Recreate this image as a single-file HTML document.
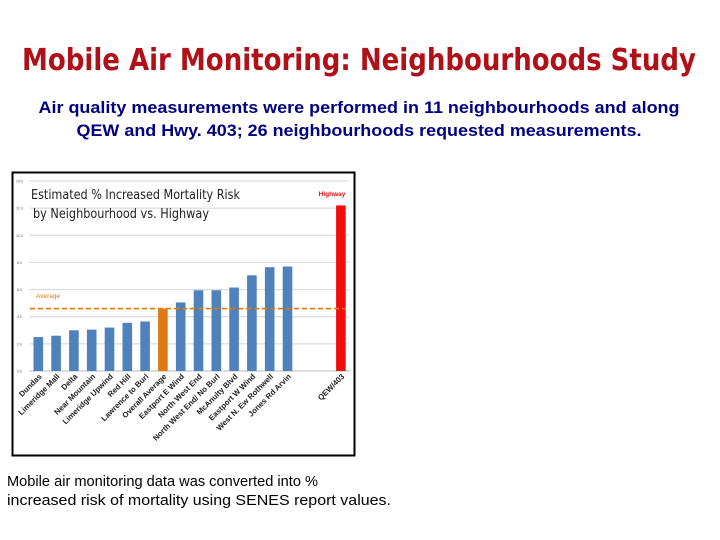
<!DOCTYPE html>
<html><head><meta charset="utf-8"><style>
html,body{margin:0;padding:0;background:#fff;}
svg{display:block;}
</style></head><body>
<svg id="slide" width="720" height="540" viewBox="0 0 720 540" xmlns="http://www.w3.org/2000/svg">
<text x="359" y="70" text-anchor="middle" textLength="674" lengthAdjust="spacingAndGlyphs" font-family="DejaVu Sans, sans-serif" font-weight="bold" font-size="30" fill="#b01018">Mobile Air Monitoring: Neighbourhoods Study</text>
<g font-family="Liberation Sans, sans-serif" font-weight="bold" font-size="16.5" fill="#000080">
<text x="359" y="113" text-anchor="middle" textLength="641" lengthAdjust="spacingAndGlyphs">Air quality measurements were performed in 11 neighbourhoods and along</text>
<text x="359" y="136" text-anchor="middle" textLength="565" lengthAdjust="spacingAndGlyphs">QEW and Hwy. 403; 26 neighbourhoods requested measurements.</text>
</g>
<g font-family="Liberation Sans, sans-serif" font-size="14.5" fill="#000">
<text x="7" y="486" textLength="311" lengthAdjust="spacingAndGlyphs">Mobile air monitoring data was converted into %</text>
<text x="7" y="505" textLength="384" lengthAdjust="spacingAndGlyphs">increased risk of mortality using SENES report values.</text>
</g>
<rect x="12.5" y="172.5" width="342" height="283" fill="#fff" stroke="#000" stroke-width="2"/>
<g id="chart"></g>
</svg>
<script>
const categories = ["Dundas","Limeridge Mall","Delta","Near Mountain","Limeridge Upwind","Red Hill","Lawrence to Burl","Overall Average","Eastport E Wind","North West End","North West End/ No Burl","McAnulty Blvd","Eastport W Wind","West N. Ew Rothwell","Jones Rd Arvin","","","QEW/403"];
const values = [2.5,2.6,3.0,3.05,3.2,3.55,3.65,4.6,5.05,5.95,5.95,6.15,7.05,7.65,7.7,null,null,12.2];
const kinds = ["n","n","n","n","n","n","n","avg","n","n","n","n","n","n","n","","","hwy"];
const yTicks = [0,2,4,6,8,10,12,14];
const tickLabels = ["0.0","2.0","4.0","6.0","8.0","10.0","12.0","14.0"];
const averageValue = 4.6;

const NS="http://www.w3.org/2000/svg";
const g=document.getElementById('chart');
const x0=29.4, slot=17.8, gridRight=349;
const yTop=181, yBot=371, yMax=14;
function y(v){return yBot-(v/yMax)*(yBot-yTop);}
function xc(i){return x0+slot*(i+0.5);}
function el(t,a){const e=document.createElementNS(NS,t);for(const k in a)e.setAttribute(k,a[k]);g.appendChild(e);return e;}

yTicks.forEach((t,i)=>{
  const l=el('line',{x1:x0,x2:gridRight,y1:y(t),y2:y(t),stroke:i===0?'#bbb':'#d4d4d4','stroke-width':1});
  
  
  const tx=el('text',{x:x0-10,y:y(t)+1.5,'font-size':3.5,'font-family':'Liberation Sans, sans-serif',fill:'#555','text-anchor':'middle'});
  tx.textContent=tickLabels[i];
  
  
});

values.forEach((v,i)=>{
  if(v===null)return;
  const col=kinds[i]==='hwy'?'#f20d0d':kinds[i]==='avg'?'#e07a10':'#4f81bd';
  const r=el('rect',{x:xc(i)-4.8,y:y(v),width:9.6,height:y(0)-y(v),fill:col});
  
  
});
categories.forEach((c,i)=>{
  if(!c)return;
  const px=xc(i)+4, py=y(0)+6;
  const t=el('text',{x:px,y:py,'font-size':7.8,'font-weight':'bold','font-family':'Liberation Sans, sans-serif',fill:'#222','text-anchor':'end',transform:'rotate(-45 '+px+' '+py+')'});
  t.textContent=c;
  
  
});

const al=el('line',{x1:30,x2:346,y1:y(averageValue),y2:y(averageValue),stroke:'#e07a10','stroke-width':1.6,'stroke-dasharray':'5,3'});


const at=el('text',{x:36,y:298,'font-size':6.5,'font-family':'Liberation Sans, sans-serif',fill:'#e07a10'});
at.textContent='Average';


const ht=el('text',{x:332,y:196,'font-size':6.5,'font-weight':'bold','font-family':'Liberation Sans, sans-serif',fill:'#e01010','text-anchor':'middle'});
ht.textContent='Highway';


const t1=el('text',{x:31,y:199,'font-size':13,'font-family':'DejaVu Sans, sans-serif',fill:'#222',textLength:209,lengthAdjust:'spacingAndGlyphs'});
t1.textContent='Estimated % Increased Mortality Risk';


const t2=el('text',{x:33,y:218,'font-size':13,'font-family':'DejaVu Sans, sans-serif',fill:'#222',textLength:176,lengthAdjust:'spacingAndGlyphs'});
t2.textContent='by Neighbourhood vs. Highway';


</script>
</body></html>
